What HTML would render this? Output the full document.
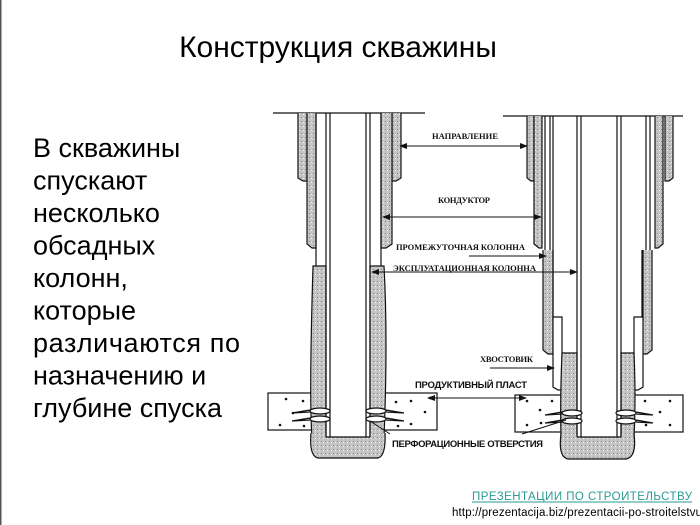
<!DOCTYPE html>
<html><head><meta charset="utf-8"><style>
html,body{margin:0;padding:0;background:#fff;}
svg{display:block;}
</style></head><body>
<svg width="700" height="525" viewBox="0 0 700 525" xmlns="http://www.w3.org/2000/svg">
<defs>
<pattern id="cem" width="4" height="4" patternUnits="userSpaceOnUse">
<rect width="4" height="4" fill="#c4c4c4"/><rect x="1" y="1" width="1" height="1" fill="#888"/><rect x="3" y="2" width="1" height="1" fill="#eee"/>
</pattern>
<marker id="ah" markerWidth="8" markerHeight="6" refX="7" refY="3" orient="auto" markerUnits="userSpaceOnUse"><path d="M0,0 L8,3 L0,6 z" fill="#111"/></marker>
</defs>
<rect x="0" y="0" width="1.5" height="525" fill="#555"/>
<text x="338" y="57" font-family="Liberation Sans, sans-serif" font-size="30" text-anchor="middle" fill="#000">Конструкция скважины</text>
<g font-family="Liberation Sans, sans-serif" font-size="27" fill="#000">
<text x="33" y="157">В скважины</text>
<text x="33" y="189.5">спускают</text>
<text x="33" y="222">несколько</text>
<text x="33" y="254.5">обсадных</text>
<text x="33" y="287">колонн,</text>
<text x="33" y="319.5">которые</text>
<text x="33" y="352" textLength="207">различаются по</text>
<text x="33" y="384.5">назначению и</text>
<text x="33" y="417">глубине спуска</text>
</g>

<g stroke="#111" stroke-width="1.2" fill="none">
<line x1="273" y1="113" x2="425" y2="113"/>
<rect x="268" y="393" width="45" height="37" fill="#fff"/>
<rect x="382" y="393" width="55" height="37" fill="#fff"/>
<path d="M298,113 V178 L303,181 H307 V113" fill="url(#cem)"/>
<path d="M401,113 V178 L396,181 H392 V113" fill="url(#cem)"/>
<path d="M307,113 V244 L312,248 H316 V113" fill="url(#cem)"/>
<path d="M392,113 V244 L386,248 H381 V113" fill="url(#cem)"/>
<path d="M313,266 H326 V437 H312 Q309,400 313,266 Z" fill="url(#cem)"/>
<path d="M370,266 H384 Q388,340 384,437 H370 Z" fill="url(#cem)"/>
<path d="M311,433 H326 V437 H370 V433 H385 Q386,456 378,458 H318 Q309,456 311,433 Z" fill="url(#cem)" stroke="none"/>
<path d="M311,433 Q309,456 318,458 H378 Q386,456 385,433"/>
<line x1="316" y1="113" x2="316" y2="266"/>
<line x1="381" y1="113" x2="381" y2="266"/>
<line x1="326" y1="113" x2="326" y2="437"/>
<line x1="330" y1="113" x2="330" y2="437"/>
<line x1="366" y1="113" x2="366" y2="437"/>
<line x1="370" y1="113" x2="370" y2="437"/>
<line x1="326" y1="437" x2="370" y2="437"/>
<ellipse cx="320" cy="411" rx="10" ry="3" fill="#fff"/>
<ellipse cx="320" cy="419" rx="10" ry="3" fill="#fff"/>
<ellipse cx="376" cy="411" rx="10" ry="3" fill="#fff"/>
<ellipse cx="376" cy="419" rx="10" ry="3" fill="#fff"/>
<path d="M310,410 L292,413 L310,412 M310,418 L292,421 L310,420 M386,410 L404,413 L386,412 M386,418 L404,421 L386,420"/>

<line x1="503" y1="116" x2="683" y2="116"/>
<rect x="515" y="395" width="47" height="37" fill="#fff"/>
<rect x="633" y="395" width="50" height="37" fill="#fff"/>
<path d="M527,116 V178 L531,181 H534 V116" fill="url(#cem)"/>
<path d="M673,116 V178 L669,181 H665 V116" fill="url(#cem)"/>
<path d="M534,116 V244 L539,248 H542 V116" fill="url(#cem)"/>
<path d="M663,116 V244 L658,248 H655 V116" fill="url(#cem)"/>
<path d="M543,250 V350 L548,354 H553 V250" fill="url(#cem)"/>
<path d="M652,250 V350 L647,354 H642 V250" fill="url(#cem)"/>
<line x1="545" y1="116" x2="545" y2="250"/>
<line x1="550" y1="116" x2="550" y2="250"/>
<line x1="553" y1="116" x2="553" y2="320"/>
<line x1="646" y1="116" x2="646" y2="250"/>
<line x1="650" y1="116" x2="650" y2="250"/>
<line x1="643" y1="250" x2="643" y2="320"/>
<path d="M553,317 V387 L558,390 H562 V317 Z" fill="#fff"/>
<path d="M643,317 V387 L638,390 H634 V317 Z" fill="#fff"/>
<path d="M562,353 H577 V437 H561 Q560,400 562,353 Z" fill="url(#cem)"/>
<path d="M621,353 H634 Q636,400 634,437 H621 Z" fill="url(#cem)"/>
<path d="M561,434 H577 V437 H621 V434 H634 Q637,457 626,459 H568 Q558,457 561,434 Z" fill="url(#cem)" stroke="none"/>
<path d="M561,434 Q558,457 568,459 H626 Q637,457 634,434"/>
<line x1="577" y1="116" x2="577" y2="437"/>
<line x1="581" y1="116" x2="581" y2="437"/>
<line x1="617" y1="116" x2="617" y2="437"/>
<line x1="621" y1="116" x2="621" y2="437"/>
<line x1="577" y1="437" x2="621" y2="437"/>
<ellipse cx="572" cy="413" rx="10" ry="3" fill="#fff"/>
<ellipse cx="572" cy="421" rx="10" ry="3" fill="#fff"/>
<ellipse cx="626" cy="413" rx="10" ry="3" fill="#fff"/>
<ellipse cx="626" cy="421" rx="10" ry="3" fill="#fff"/>
<path d="M562,412 L545,415 L562,414 M562,420 L545,423 L562,422 M636,412 L653,415 L636,414 M636,420 L653,423 L636,422"/>
</g>

<g fill="#111">
<circle cx="286" cy="399" r="1.3"/><circle cx="303" cy="401" r="1.3"/><circle cx="293" cy="413" r="1.3"/><circle cx="280" cy="425" r="1.3"/><circle cx="304" cy="426" r="1.3"/>
<circle cx="396" cy="402" r="1.3"/><circle cx="411" cy="401" r="1.3"/><circle cx="425" cy="412" r="1.3"/><circle cx="398" cy="426" r="1.3"/><circle cx="411" cy="424" r="1.3"/><circle cx="430" cy="398" r="1.3"/>
<circle cx="527" cy="401" r="1.3"/><circle cx="540" cy="410" r="1.3"/><circle cx="552" cy="401" r="1.3"/><circle cx="527" cy="425" r="1.3"/><circle cx="541" cy="423" r="1.3"/>
<circle cx="645" cy="401" r="1.3"/><circle cx="670" cy="401" r="1.3"/><circle cx="660" cy="412" r="1.3"/><circle cx="646" cy="425" r="1.3"/><circle cx="670" cy="425" r="1.3"/>
</g>

<g stroke="#111" stroke-width="1" fill="none">
<line x1="410" y1="146" x2="400" y2="146" marker-end="url(#ah)"/>
<line x1="410" y1="146" x2="527" y2="146" marker-end="url(#ah)"/>
<line x1="395" y1="217" x2="383" y2="217" marker-end="url(#ah)"/>
<line x1="395" y1="217" x2="541" y2="217" marker-end="url(#ah)"/>
<line x1="469" y1="256" x2="546" y2="256" marker-end="url(#ah)"/>
<line x1="385" y1="272" x2="372" y2="272" marker-end="url(#ah)"/>
<line x1="385" y1="272" x2="577" y2="272" marker-end="url(#ah)"/>
<line x1="490" y1="368" x2="554" y2="368" marker-end="url(#ah)"/>
<line x1="440" y1="398" x2="428" y2="398" marker-end="url(#ah)"/>
<line x1="440" y1="398" x2="526" y2="398" marker-end="url(#ah)"/>
<line x1="390" y1="434" x2="370" y2="421"/>
<line x1="522" y1="434" x2="566" y2="420"/>
</g>

<g font-family="Liberation Serif, serif" font-weight="bold" font-size="8.5" fill="#111">
<text x="432" y="139" textLength="66">НАПРАВЛЕНИЕ</text>
<text x="438" y="203" textLength="52">КОНДУКТОР</text>
<text x="396" y="250" textLength="129">ПРОМЕЖУТОЧНАЯ КОЛОННА</text>
<text x="393" y="271" textLength="143">ЭКСПЛУАТАЦИОННАЯ КОЛОННА</text>
<text x="480" y="362" textLength="53">ХВОСТОВИК</text>
</g>
<g font-family="Liberation Sans, sans-serif" font-weight="bold" font-size="9.5" fill="#111">
<text x="415" y="388" textLength="112">ПРОДУКТИВНЫЙ ПЛАСТ</text>
<text x="392" y="447" textLength="151">ПЕРФОРАЦИОННЫЕ ОТВЕРСТИЯ</text>
</g>

<text x="472" y="500" font-family="Liberation Sans, sans-serif" font-size="11.5" fill="#2a9a95" textLength="220">ПРЕЗЕНТАЦИИ ПО СТРОИТЕЛЬСТВУ</text>
<line x1="472" y1="502" x2="692" y2="502" stroke="#2a9a95" stroke-width="1"/>
<text x="452" y="516" font-family="Liberation Sans, sans-serif" font-size="11.5" fill="#000" textLength="250">http://prezentacija.biz/prezentacii-po-stroitelstvu</text>
</svg>
</body></html>
